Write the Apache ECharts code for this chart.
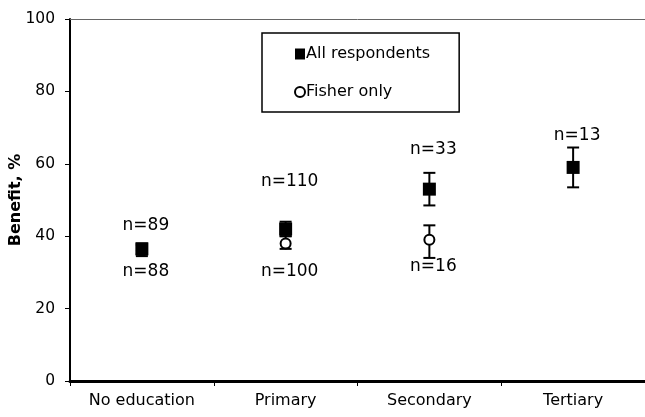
<!DOCTYPE html>
<html><head><meta charset="utf-8">
<script src="https://cdn.jsdelivr.net/npm/echarts@6/dist/echarts.min.js"></script>
<style>html,body{margin:0;padding:0;background:#fff}#c{width:645px;height:417px}</style>
</head><body><div id="c"></div>
<script>
const categories = ['No education', 'Primary', 'Secondary', 'Tertiary'];
const yTicks = [0, 20, 40, 60, 80, 100];
const yTitle = 'Benefit, %';
const allValues = [36.5, 42, 53, 59];
const allLow = [35, 40, 48.5, 53.5];
const allHigh = [38, 44, 57.5, 64.5];
const fisherValues = [36, 38, 39, null];
const fisherLow = [34.5, 36.5, 34, null];
const fisherHigh = [37.5, 40, 43, null];
const allN = ['n=89', 'n=110', 'n=33', 'n=13'];
const allNY = [42.8, 55, 63.8, 67.7];
const fisherN = ['n=88', 'n=100', 'n=16', null];
const fisherNY = [30.1, 30.1, 31.5, null];

const FONT = 'DejaVu Sans';
const chart = echarts.init(document.getElementById('c'), null, {renderer: 'canvas'});

function errData(low, high) {
  const out = [];
  low.forEach((l, i) => { if (l != null) out.push([i, l, high[i]]); });
  return out;
}
function errRender(params, api) {
  const x = api.value(0);
  const lo = api.coord([x, api.value(1)]);
  const hi = api.coord([x, api.value(2)]);
  const w = 6;
  const st = {stroke: '#000', lineWidth: 2};
  return {type: 'group', children: [
    {type: 'line', shape: {x1: lo[0], y1: lo[1], x2: hi[0], y2: hi[1]}, style: st},
    {type: 'line', shape: {x1: lo[0] - w, y1: lo[1], x2: lo[0] + w, y2: lo[1]}, style: st},
    {type: 'line', shape: {x1: hi[0] - w, y1: hi[1], x2: hi[0] + w, y2: hi[1]}, style: st}
  ]};
}
const labelData = [];
allN.forEach((t, i) => labelData.push({value: [i, allNY[i]], name: t}));
fisherN.forEach((t, i) => { if (t) labelData.push({value: [i, fisherNY[i]], name: t}); });

chart.setOption({
  animation: false,
  backgroundColor: '#fff',
  textStyle: {fontFamily: FONT},
  grid: {left: 70, right: 0, top: 19, bottom: 36, containLabel: false, outerBoundsMode: 'none'},
  graphic: [{
    type: 'text', x: 16, y: 200, rotation: Math.PI / 2,
    style: {text: yTitle, fill: '#000', font: 'bold 16px "DejaVu Sans"', textAlign: 'center', textVerticalAlign: 'middle'}
  }],
  legend: {
    data: [{name: 'All respondents', icon: 'rect'}, {name: 'Fisher only', icon: 'emptyCircle'}],
    orient: 'vertical', left: 262, top: 33,
    borderColor: '#000', borderWidth: 1.5,
    padding: [13, 29, 12, 32], itemGap: 22,
    itemWidth: 10, itemHeight: 11,
    textStyle: {fontFamily: FONT, fontSize: 16, color: '#000', padding: [0, 0, 0, -4]}
  },
  xAxis: [{
    type: 'category', data: categories, boundaryGap: true,
    axisLine: {lineStyle: {color: '#000', width: 3}},
    axisTick: {show: true, inside: false, length: 5, lineStyle: {color: '#000', width: 1}},
    axisLabel: {color: '#000', fontFamily: FONT, fontSize: 16, margin: 12}
  }, {
    type: 'category', data: categories, position: 'top', boundaryGap: true,
    axisLine: {lineStyle: {color: '#666', width: 1}},
    axisTick: {show: false}, axisLabel: {show: false}
  }],
  yAxis: {
    type: 'value', min: yTicks[0], max: yTicks[yTicks.length - 1], interval: 20,
    axisLine: {show: true, lineStyle: {color: '#000', width: 2}},
    axisTick: {show: true, length: 5, lineStyle: {color: '#000'}},
    axisLabel: {color: '#000', fontFamily: FONT, fontSize: 15.5, margin: 15},
    splitLine: {show: false}
  },
  series: [
    {type: 'custom', name: 'errFisher', renderItem: errRender, data: errData(fisherLow, fisherHigh), z: 2, encode: {x: 0, y: [1, 2]}},
    {type: 'custom', name: 'errAll', renderItem: errRender, data: errData(allLow, allHigh), z: 2, encode: {x: 0, y: [1, 2]}},
    {type: 'scatter', name: 'Fisher only', data: fisherValues.map((v, i) => v == null ? null : [i, v]),
      symbol: 'emptyCircle', symbolSize: 10, z: 3,
      itemStyle: {color: '#000', borderColor: '#000', borderWidth: 2, opacity: 1}},
    {type: 'scatter', name: 'All respondents', data: allValues.map((v, i) => [i, v]),
      symbol: 'rect', symbolSize: 13, z: 4,
      itemStyle: {color: '#000', opacity: 1}},
    {type: 'scatter', name: 'labels', data: labelData, symbolSize: 0, silent: true, z: 5,
      itemStyle: {opacity: 1},
      label: {show: true, position: 'inside', offset: [4, 0], formatter: p => p.name, color: '#000',
        textBorderWidth: 0, fontFamily: FONT, fontSize: 17}}
  ]
});
</script></body></html>
